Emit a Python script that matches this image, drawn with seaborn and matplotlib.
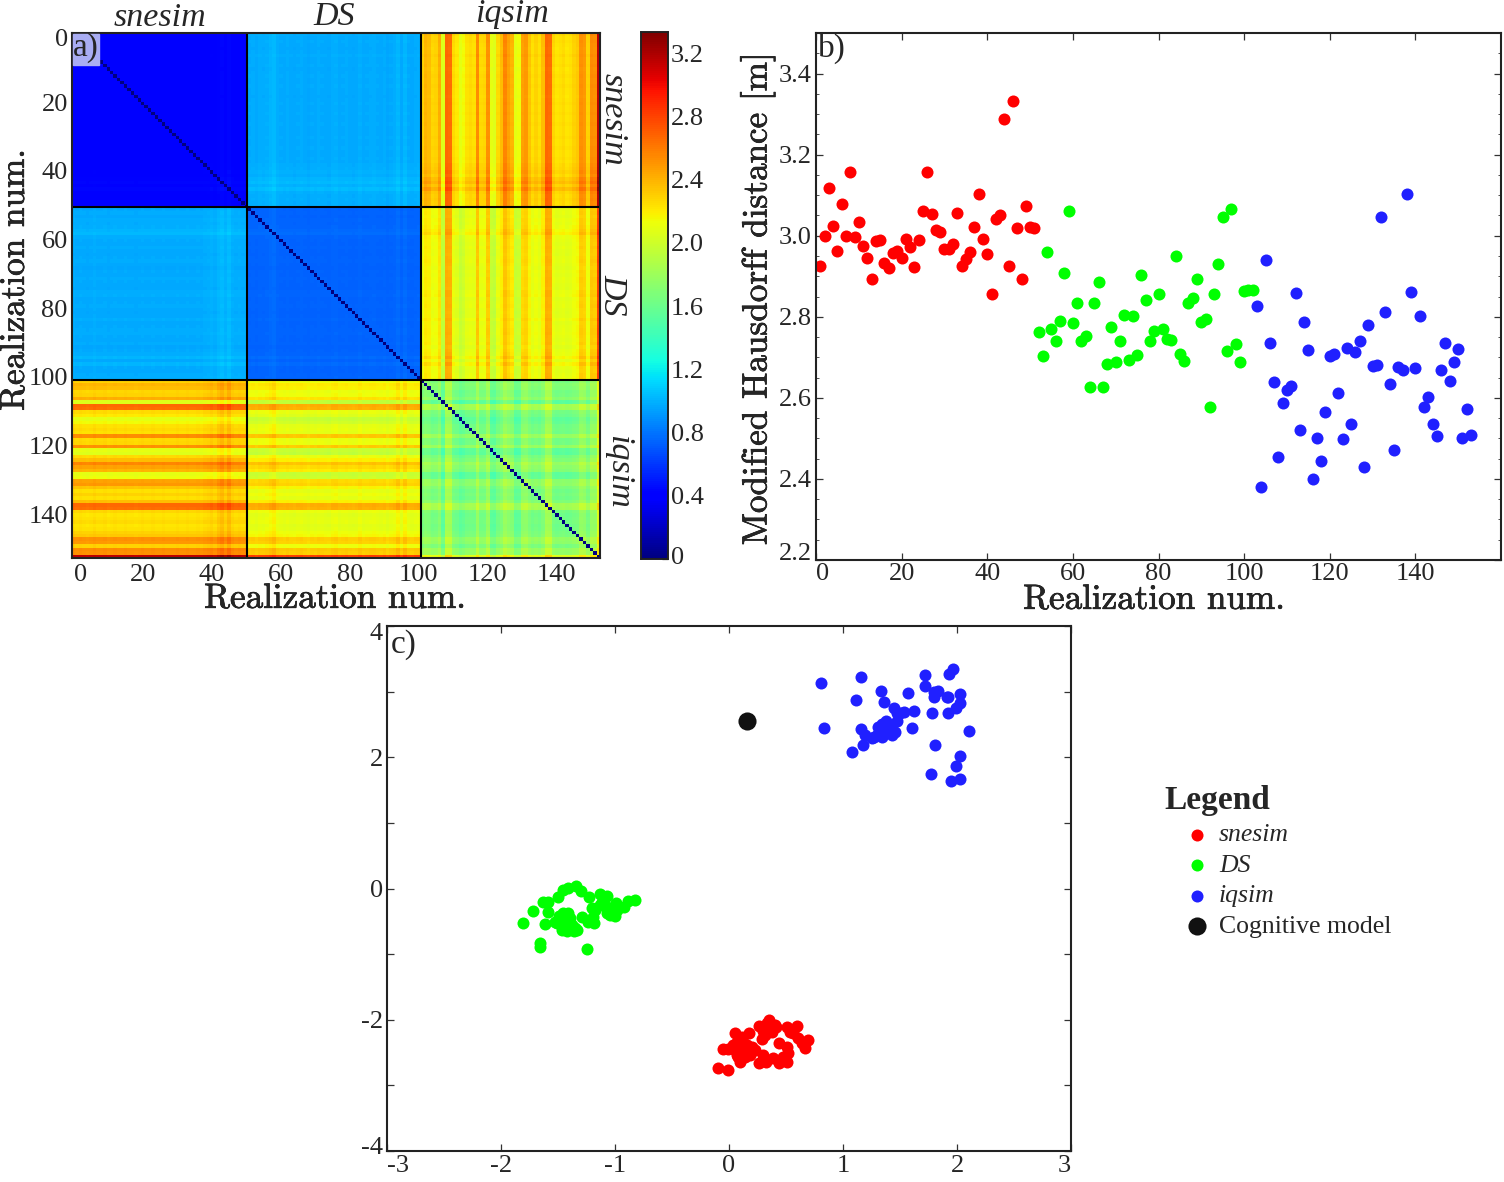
import matplotlib
matplotlib.use('Agg')
import matplotlib.pyplot as plt
import matplotlib.patches as patches
import matplotlib.patheffects as pe
from matplotlib.transforms import ScaledTranslation
import numpy as np
import seaborn as sns

# panel b: mean distance of each realization
snesim_dist = [2.926, 2.999, 3.118, 3.023, 2.963, 3.078, 3.000, 3.158, 2.996, 3.035, 2.975, 2.944, 2.893,
               2.986, 2.990, 2.932, 2.920, 2.957, 2.963, 2.944, 2.993, 2.971, 2.923, 2.989, 3.062, 3.158,
               3.054, 3.015, 3.008, 2.967, 2.966, 2.980, 3.056, 2.925, 2.942, 2.961, 3.021, 3.103, 2.993,
               2.956, 2.855, 3.042, 3.051, 3.287, 2.926, 3.333, 3.020, 2.893, 3.073, 3.022, 3.020]
ds_dist = [2.762, 2.702, 2.959, 2.770, 2.741, 2.789, 2.907, 3.061, 2.785, 2.835, 2.740, 2.752, 2.626,
           2.833, 2.887, 2.627, 2.683, 2.775, 2.688, 2.741, 2.805, 2.693, 2.802, 2.706, 2.902, 2.841,
           2.741, 2.766, 2.855, 2.770, 2.745, 2.742, 2.951, 2.708, 2.692, 2.833, 2.846, 2.894, 2.788,
           2.794, 2.578, 2.857, 2.929, 3.045, 2.715, 3.067, 2.732, 2.688, 2.864, 2.867, 2.867]
iqsim_dist = [2.826, 2.380, 2.939, 2.735, 2.639, 2.455, 2.587, 2.620, 2.629, 2.858, 2.520, 2.786, 2.717,
              2.399, 2.500, 2.444, 2.566, 2.702, 2.709, 2.611, 2.499, 2.724, 2.535, 2.712, 2.740, 2.430,
              2.780, 2.678, 2.682, 3.046, 2.812, 2.635, 2.472, 2.675, 2.668, 3.104, 2.861, 2.674, 2.803,
              2.577, 2.602, 2.536, 2.507, 2.668, 2.736, 2.641, 2.689, 2.720, 2.500, 2.573, 2.509]

# panel c: MDS coordinates
snesim_x = [-0.094, -0.012, -0.050, -0.006, 0.050, 0.175, 0.073, 0.126, 0.053, 0.111, 0.184, 0.082, 0.140,
            0.096, 0.067, 0.155, 0.266, 0.301, 0.351, 0.403, 0.359, 0.287, 0.316, 0.374, 0.511, 0.593,
            0.564, 0.608, 0.690, 0.666, 0.441, 0.511, 0.520, 0.295, 0.266, 0.321, 0.383, 0.441, 0.511,
            0.476, 0.140, 0.096, 0.184, 0.111, 0.637, 0.535, 0.330, 0.038, 0.228, 0.199, 0.412]
snesim_y = [-2.741, -2.772, -2.447, -2.447, -2.198, -2.208, -2.335, -2.335, -2.462, -2.462, -2.462, -2.564,
            -2.564, -2.640, -2.538, -2.386, -2.096, -2.168, -2.005, -2.081, -2.081, -2.299, -2.233, -2.183,
            -2.107, -2.096, -2.208, -2.284, -2.309, -2.436, -2.360, -2.412, -2.513, -2.538, -2.665, -2.640,
            -2.589, -2.655, -2.645, -2.564, -2.462, -2.386, -2.538, -2.259, -2.360, -2.183, -2.055, -2.386,
            -2.462, -2.412, -2.107]
ds_x = [-1.808, -1.718, -1.633, -1.589, -1.592, -1.610, -1.656, -1.656, -1.242, -1.496, -1.457, -1.408,
        -1.341, -1.297, -1.224, -1.131, -1.067, -1.203, -1.116, -1.174, -0.824, -0.883, -0.920, -0.990,
        -0.999, -1.072, -1.028, -1.131, -1.487, -1.408, -1.510, -1.466, -1.422, -1.358, -1.330, -1.437,
        -1.394, -1.466, -1.379, -1.291, -1.233, -1.181, -1.525, -1.422, -1.189, -1.072, -0.984, -1.452,
        -1.043, -0.955, -1.350]
ds_y = [-0.531, -0.343, -0.206, -0.201, -0.358, -0.546, -0.836, -0.887, -0.927, -0.125, -0.023, 0.003,
        0.038, -0.034, -0.125, -0.084, -0.114, -0.302, -0.201, -0.328, -0.175, -0.191, -0.287, -0.226,
        -0.419, -0.378, -0.302, -0.252, -0.419, -0.369, -0.531, -0.633, -0.643, -0.648, -0.633, -0.506,
        -0.454, -0.480, -0.556, -0.430, -0.506, -0.531, -0.506, -0.582, -0.430, -0.277, -0.328, -0.378,
        -0.404, -0.277, -0.607]
iqsim_x = [0.803, 1.154, 1.715, 1.969, 1.928, 1.715, 1.332, 1.116, 1.356, 1.572, 1.832, 1.800, 1.794,
           1.911, 1.922, 2.030, 2.025, 1.995, 1.922, 1.782, 1.624, 1.537, 1.499, 1.446, 1.475, 1.478,
           1.376, 1.338, 1.309, 0.833, 1.157, 1.192, 1.250, 1.274, 1.294, 1.323, 1.344, 1.367, 1.411,
           1.426, 1.455, 1.601, 2.106, 1.803, 1.177, 1.081, 2.027, 1.987, 1.776, 1.946, 2.027]
iqsim_y = [3.128, 3.219, 3.260, 3.346, 3.275, 3.091, 3.015, 2.873, 2.838, 2.975, 3.015, 2.990, 2.924,
           2.919, 2.924, 2.965, 2.832, 2.747, 2.680, 2.680, 2.710, 2.686, 2.670, 2.747, 2.670, 2.558,
           2.553, 2.508, 2.457, 2.442, 2.431, 2.345, 2.294, 2.305, 2.340, 2.391, 2.314, 2.442, 2.492,
           2.340, 2.381, 2.451, 2.401, 2.183, 2.183, 2.085, 2.020, 1.867, 1.750, 1.643, 1.674]
model_x = [0.158]
model_y = [2.553]

# panel a: block means and the stripes read per realization
methods = ['snesim', 'DS', 'iqsim']
block_size = [51, 50, 52]
block_mean = [[0.40, 0.97, 2.24], [0.97, 0.74, 2.08], [2.24, 2.08, 1.62]]
block_gain = [[0.25, 0.45, 1.0], [0.45, 0.25, 0.8], [1.0, 0.8, 0.5]]
snesim_level = [0.02, 0, 0.01, 0, -0.01, 0, 0.02, 0, 0, 0.01, -0.01, 0, 0.01, 0, 0, 0.01, 0, 0, -0.01, 0, 0.01,
                0, 0, 0.01, 0, 0, 0.01, 0, 0, 0, 0.01, 0, 0, 0.01, 0, 0, 0.01, 0, 0.02, 0.03, 0.05, 0.02, 0.08,
                0.12, 0.05, 0.13, 0.04, 0.02, 0.03, 0.02, 0.03]
ds_level = [0.01, 0.02, 0, 0.03, 0.02, 0.04, 0.08, 0.12, 0.03, 0.01, 0, 0.02, 0, -0.01, 0.01, 0.02, 0, -0.02,
            0.01, 0, 0.02, 0.01, 0, -0.01, 0.03, 0.04, 0, 0.01, 0.02, 0, -0.01, 0, 0.04, 0, 0.01, 0.02, 0.03,
            0.01, 0, 0.02, -0.02, 0.01, 0.03, 0.10, 0, 0.10, 0.01, 0, 0.02, 0.03, 0.05]
iqsim_level = [0.15, 0.12, 0.03, 0.05, 0.18, -0.18, 0.42, 0.40, 0.02, -0.03, -0.15, -0.10, 0, 0.02, 0, 0.30, 0.02,
               0.03, 0.28, -0.15, -0.18, 0.02, 0.12, 0.32, 0.22, 0.15, -0.15, -0.12, 0.22, 0.25, 0.10, 0, 0.05,
               0, 0.12, 0.42, 0.40, 0.03, -0.02, 0, 0.02, -0.02, 0, 0.05, 0.08, 0.28, 0.25, 0.05, 0.30, 0.28, 0.90]

cbar_ticks = [0, 0.4, 0.8, 1.2, 1.6, 2.0, 2.4, 2.8, 3.2]
cbar_labels = ['0', '0.4', '0.8', '1.2', '1.6', '2.0', '2.4', '2.8', '3.2']
real_ticks_a = [0, 20, 40, 60, 80, 100, 120, 140]
dist_ticks = [2.2, 2.4, 2.6, 2.8, 3.0, 3.2, 3.4]
mds_x_ticks = [-3, -2, -1, 0, 1, 2, 3]
mds_y_ticks = [-4, -2, 0, 2, 4]

sns.set_style('ticks')
plt.rcParams['font.family'] = ['Liberation Serif', 'DejaVu Serif']
plt.rcParams['axes.linewidth'] = 1.5
plt.rcParams['axes.edgecolor'] = '#222222'

W, H = 1504, 1182
fig = plt.figure(figsize=(W / 100, H / 100), dpi=100)
heavy = [pe.withStroke(linewidth=0.45, foreground='black')]


def px_axes(left, top, right, bottom):
    return fig.add_axes([left / W, 1 - bottom / H, (right - left) / W, (bottom - top) / H])


def px_text(x, y, s, **kw):
    kw.setdefault('ha', 'center')
    kw.setdefault('va', 'center')
    return fig.text(x / W, 1 - y / H, s, **kw)


def style_ticks(ax, size=19):
    ax.tick_params(which='major', direction='in', length=5, width=0.9, top=True, right=True,
                   labelsize=size, pad=3, color='#333333')
    ax.tick_params(which='minor', direction='in', length=2, width=0.6, top=True, right=True, color='#333333')


def nudge(label, dy):
    # move one tick label up (+) or down (-), in pixels
    label.set_transform(label.get_transform() + ScaledTranslation(0, dy / 100, fig.dpi_scale_trans))


# panel a
levels = np.array(snesim_level + ds_level + iqsim_level)
groups = np.repeat([0, 1, 2], block_size)
means = np.array(block_mean)[groups][:, groups]
gains = np.array(block_gain)[groups][:, groups]
dist_matrix = means + gains * np.add.outer(levels, levels)
np.fill_diagonal(dist_matrix, 0)

ax_a = px_axes(72, 33, 600, 558)
cax = px_axes(641, 32, 668, 559)
sns.heatmap(dist_matrix, cmap='jet', vmin=0, vmax=3.335, ax=ax_a, cbar_ax=cax, rasterized=True)
for s in ax_a.spines.values():
    s.set_visible(True)
ax_a.hlines([50.8, 101.2], 0, 153, color='black', lw=1.5)
ax_a.vlines([50.8, 101], 0, 153, color='black', lw=1.5)
ax_a.set_xticks([v + 0.5 for v in real_ticks_a])
ax_a.set_xticklabels(real_ticks_a, rotation=0)
ax_a.set_yticks([v + 0.5 for v in real_ticks_a])
ax_a.set_yticklabels(real_ticks_a, rotation=0)
style_ticks(ax_a)
ax_a.tick_params(axis='x', pad=4)
ax_a.get_xticklabels()[0].set_ha('left')
for lab in ax_a.get_yticklabels():
    nudge(lab, -1.5)
nudge(ax_a.get_yticklabels()[0], -3.5)

cax.set_yticks(cbar_ticks)
cax.set_yticklabels(cbar_labels)
cax.tick_params(direction='in', length=4, width=0.9, labelsize=19, pad=2, right=True, color='#333333')
nudge(cax.get_yticklabels()[0], 4)
for s in cax.spines.values():
    s.set_visible(True)
    s.set_linewidth(1.2)

ax_a.add_patch(patches.Rectangle((0.3, 0.3), 7.5, 9, color='#a9adf3', zorder=3))
px_text(86, 48, 'a)', fontsize=24, zorder=5)
for x, y, name in zip([160, 334, 512], [18, 17, 14], methods):
    px_text(x, y, name, fontsize=24.5, style='italic')
for y, x, name in zip([119, 295, 472], [613, 613, 618], methods):
    px_text(x, y, name, fontsize=24.5, style='italic', rotation=270)
px_text(335, 599, 'Realization num.', fontsize=25.3, family='cmr10', path_effects=heavy)
px_text(15, 280, 'Realization num.', fontsize=25.3, family='cmr10', rotation=90, path_effects=heavy)

# panel b
ax_b = px_axes(816, 33, 1501, 560)
for start, dist, color in zip([1, 52, 103], [snesim_dist, ds_dist, iqsim_dist], ['#ff0000', '#00ff00', '#2020ff']):
    sns.scatterplot(x=np.arange(start, start + 51), y=dist, color=color, s=75, linewidth=0, ax=ax_b)
ax_b.set_xlim(0, 160)
ax_b.set_ylim(2.2, 3.5)
ax_b.set_xticks(real_ticks_a)
ax_b.set_yticks(dist_ticks)
ax_b.set_yticklabels(['%.1f' % v for v in dist_ticks])
ax_b.set_yticks(np.arange(2.2, 3.5, 0.05), minor=True)
style_ticks(ax_b)
ax_b.tick_params(axis='x', pad=2)
ax_b.get_xticklabels()[0].set_ha('left')
nudge(ax_b.get_yticklabels()[0], 8)
px_text(832, 48, 'b)', fontsize=24)
px_text(1154, 600, 'Realization num.', fontsize=25.3, family='cmr10', path_effects=heavy)
px_text(758, 299, 'Modified Hausdorff distance [m]', fontsize=25.3, family='cmr10', rotation=90, path_effects=heavy)

# panel c
ax_c = px_axes(387, 626, 1071, 1151)
sns.scatterplot(x=snesim_x, y=snesim_y, color='#ff0000', s=75, linewidth=0, ax=ax_c, label='snesim')
sns.scatterplot(x=ds_x, y=ds_y, color='#00ff00', s=75, linewidth=0, ax=ax_c, label='DS')
sns.scatterplot(x=iqsim_x, y=iqsim_y, color='#2020ff', s=75, linewidth=0, ax=ax_c, label='iqsim')
sns.scatterplot(x=model_x, y=model_y, color='#111111', s=170, linewidth=0, ax=ax_c, label='Cognitive model')
ax_c.set_xlim(-3, 3)
ax_c.set_ylim(-4, 4)
ax_c.set_xticks(mds_x_ticks)
ax_c.set_xticklabels([str(v) for v in mds_x_ticks])
ax_c.set_yticks(mds_y_ticks)
ax_c.set_yticklabels([str(v) for v in mds_y_ticks])
ax_c.set_yticks([-3, -1, 1, 3], minor=True)
style_ticks(ax_c)
ax_c.tick_params(which='minor', length=5, width=0.9)
ax_c.get_xticklabels()[0].set_ha('left')
ax_c.get_xticklabels()[-1].set_ha('right')
nudge(ax_c.get_yticklabels()[0], 6)
nudge(ax_c.get_yticklabels()[-1], -6)
px_text(404, 645, 'c)', fontsize=24)

leg = ax_c.legend(loc='upper left', bbox_to_anchor=((1164 - 387) / 684, 1 - (785 - 626) / 525), frameon=False,
                  fontsize=18.5, title='Legend', title_fontsize=24, labelspacing=0.29, handlelength=2.57,
                  handletextpad=-0.43, alignment='left', borderaxespad=0, borderpad=0)
leg.get_title().set_fontweight('bold')
for t in leg.get_texts()[:3]:
    t.set_style('italic')

fig.savefig('out.png', dpi=100)
